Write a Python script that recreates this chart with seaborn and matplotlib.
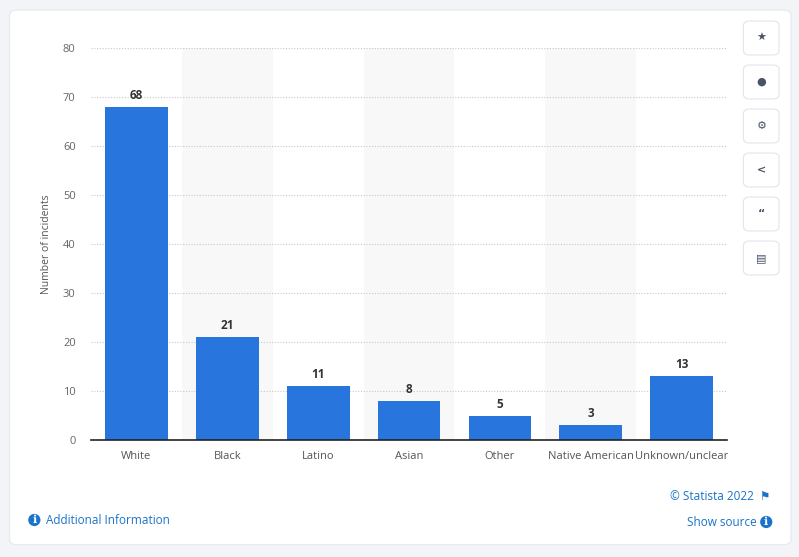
import matplotlib
matplotlib.use('Agg')
import matplotlib.pyplot as plt
import seaborn as sns
import pandas as pd
from matplotlib.patches import FancyBboxPatch

categories = ['White', 'Black', 'Latino', 'Asian', 'Other', 'Native American', 'Unknown/unclear']
incidents = [68, 21, 11, 8, 5, 3, 13]
y_ticks = [0, 10, 20, 30, 40, 50, 60, 70, 80]

df = pd.DataFrame({'race': categories, 'incidents': incidents})

sns.set_style("white")
plt.rcParams['font.family'] = ['Open Sans', 'DejaVu Sans']

fig = plt.figure(figsize=(7.99, 5.57), dpi=100)
fig.patch.set_facecolor('#f3f4f7')
card = FancyBboxPatch((0.012, 0.022), 0.978, 0.96, boxstyle="round,pad=0,rounding_size=0.01",
                      transform=fig.transFigure, facecolor='white', edgecolor='#e6e8ec',
                      lw=0.8, zorder=-5)
fig.patches.append(card)

ax = fig.add_axes([0.1139, 0.210, 0.7961, 0.7038])
ax.set_facecolor('none')

# alternating column shading
for i in range(1, len(categories), 2):
    ax.axvspan(i - 0.5, i + 0.5, color='#f8f8f8', zorder=0, lw=0)

for t in y_ticks[1:]:
    ax.axhline(t, color='#c8c8c8', ls=(0, (1, 1.5)), lw=0.8, zorder=1)

sns.barplot(data=df, x='race', y='incidents', color='#2876dd', width=0.69,
            saturation=1, linewidth=0, ax=ax, zorder=2)

for i, v in enumerate(incidents):
    ax.text(i, v + 1.0, str(v), ha='center', va='bottom', fontsize=8.5,
            fontweight='bold', color='#333333')

ax.set_xlim(-0.5, len(categories) - 0.5)
ax.set_ylim(0, 80)
ax.set_yticks(y_ticks)
ax.tick_params(axis='y', labelsize=8, colors='#666666', length=0, pad=11)
ax.tick_params(axis='x', labelsize=8, colors='#555555', length=0, pad=8)
ax.set_xlabel('')
ax.set_ylabel('Number of incidents', fontsize=7.5, color='#555555', labelpad=8)
for s in ['top', 'right', 'left']:
    ax.spines[s].set_visible(False)
ax.spines['bottom'].set_color('#222222')
ax.spines['bottom'].set_linewidth(1.2)

# side buttons
icons = ['\u2605', '\u25cf', '\u2699', '<', '\u201c', '\u25a4']
for k, ic in enumerate(icons):
    yc = 1 - (38 + 44 * k) / 557
    btn = FancyBboxPatch((0.9305, yc - 0.0305), 0.0445, 0.061,
                         boxstyle="round,pad=0,rounding_size=0.008",
                         transform=fig.transFigure, facecolor='white',
                         edgecolor='#e3e5ea', lw=0.8)
    fig.patches.append(btn)
    fig.text(0.953, yc, ic, ha='center', va='center', fontsize=8, color='#4a5468',
             family=['DejaVu Sans'], fontweight='bold')

fig.text(0.964, 1 - 497 / 557, '\u00a9 Statista 2022  \u2691', ha='right', va='center',
         fontsize=8.5, color='#1a73c8', family=['Open Sans', 'DejaVu Sans'])
fig.text(0.947, 1 - 522 / 557, 'Show source', ha='right', va='center', fontsize=8.5, color='#1a73c8')
fig.text(0.959, 1 - 522 / 557, '\u2139', ha='center', va='center', fontsize=8,
         color='white', family=['DejaVu Sans'],
         bbox=dict(boxstyle='circle,pad=0.1', fc='#1a73c8', ec='none'))
fig.text(0.043, 1 - 520 / 557, '\u2139', ha='center', va='center', fontsize=8,
         color='white', family=['DejaVu Sans'],
         bbox=dict(boxstyle='circle,pad=0.1', fc='#1a73c8', ec='none'))
fig.text(0.057, 1 - 520 / 557, 'Additional Information', ha='left', va='center',
         fontsize=8.5, color='#1a73c8')

fig.savefig('out.png', dpi=100, facecolor=fig.get_facecolor())
